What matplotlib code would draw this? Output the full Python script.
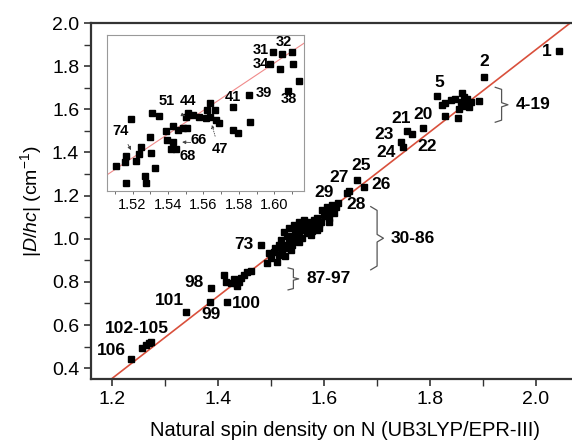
import numpy as np
import matplotlib
matplotlib.use("Agg")
import matplotlib.pyplot as plt
from matplotlib.ticker import MultipleLocator, FormatStrFormatter

plt.rcParams['font.family'] = ['Liberation Sans', 'DejaVu Sans']
plt.rcParams['mathtext.fontset'] = 'custom'
plt.rcParams['mathtext.rm'] = 'Liberation Sans'
plt.rcParams['mathtext.it'] = 'Liberation Sans:italic'

# ---- main panel data (spin density, |D/hc|) ----
# isolated, labelled compounds
lab_x = [2.043, 1.902, 1.813, 1.757, 1.787, 1.766, 1.745, 1.749, 1.662, 1.675,
         1.647, 1.626, 1.644, 1.481, 1.387, 1.385, 1.417, 1.340, 1.236]
lab_y = [1.870, 1.749, 1.660, 1.498, 1.512, 1.484, 1.447, 1.423, 1.274, 1.242,
         1.223, 1.167, 1.214, 0.972, 0.772, 0.707, 0.707, 0.660, 0.442]

# 4-19
grp1_x = [1.823, 1.828, 1.840, 1.847, 1.860, 1.864, 1.858, 1.870, 1.877, 1.874,
          1.892, 1.828, 1.853, 1.855, 1.866]
grp1_y = [1.619, 1.628, 1.642, 1.647, 1.674, 1.656, 1.633, 1.647, 1.633, 1.609,
          1.637, 1.567, 1.558, 1.600, 1.614]

# 30-86
grp2_x = [1.492, 1.500, 1.506, 1.515, 1.521, 1.511, 1.525, 1.530, 1.534, 1.540,
          1.545, 1.538, 1.549, 1.553, 1.558, 1.562, 1.568, 1.572, 1.575, 1.581,
          1.587, 1.591, 1.525, 1.534, 1.543, 1.553, 1.562, 1.572, 1.581, 1.587,
          1.594, 1.600, 1.519, 1.530, 1.553, 1.564, 1.577, 1.591, 1.545, 1.508,
          1.496, 1.515, 1.596, 1.604, 1.613, 1.609, 1.619, 1.606, 1.615, 1.623,
          1.609, 1.602, 1.557, 1.538, 1.526, 1.583]
grp2_y = [0.888, 0.912, 0.940, 0.926, 0.949, 0.893, 0.972, 0.958, 0.986, 0.972,
          0.995, 1.014, 1.019, 1.033, 1.005, 1.042, 1.028, 1.051, 1.019, 1.060,
          1.042, 1.070, 1.033, 1.051, 1.065, 1.079, 1.088, 1.079, 1.088, 1.098,
          1.079, 1.112, 0.995, 1.014, 0.986, 1.060, 1.037, 1.051, 1.042, 0.958,
          0.935, 0.972, 1.135, 1.107, 1.126, 1.079, 1.121, 1.149, 1.158, 1.149,
          1.098, 1.126, 1.051, 0.949, 0.921, 1.070]

# 87-97
grp3_x = [1.411, 1.415, 1.425, 1.434, 1.440, 1.443, 1.449, 1.455, 1.462, 1.430, 1.436]
grp3_y = [0.833, 0.800, 0.795, 0.795, 0.800, 0.819, 0.833, 0.847, 0.851, 0.814, 0.781]

# 102-105
grp4_x = [1.257, 1.264, 1.270, 1.274]
grp4_y = [0.493, 0.507, 0.516, 0.521]

# linear fit
slope, intercept = 1.905, -1.933

# text labels of main panel
txt = ['1', '2', '5', '21', '20', '22', '23', '24', '25', '26', '27', '29', '28',
       '73', '98', '99', '100', '101', '102-105', '106']
txt_x = [2.021, 1.902, 1.817, 1.745, 1.787, 1.794, 1.713, 1.717, 1.670, 1.708,
         1.628, 1.600, 1.660, 1.449, 1.355, 1.387, 1.453, 1.308, 1.247, 1.198]
txt_y = [1.870, 1.823, 1.726, 1.558, 1.577, 1.428, 1.484, 1.400, 1.340, 1.251,
         1.284, 1.214, 1.158, 0.972, 0.795, 0.647, 0.702, 0.716, 0.586, 0.484]

# ---- inset data (zoom on 30-86) ----
ins_x = [1.5990, 1.6043, 1.6099, 1.5977, 1.6033, 1.6103, 1.6137, 1.6075, 1.5858, 1.5766,
         1.5860, 1.5769, 1.5794, 1.5634, 1.5619, 1.5666, 1.5515, 1.5543, 1.5577, 1.5615,
         1.5638, 1.5672, 1.5685, 1.5502, 1.5427, 1.5459, 1.5487, 1.5506, 1.5389, 1.5393,
         1.5427, 1.5416, 1.5446, 1.5308, 1.5351, 1.5192, 1.5299, 1.5246, 1.5303, 1.5218,
         1.5238, 1.5162, 1.5158, 1.5107, 1.5327, 1.5271, 1.5163, 1.5276]
ins_y = [1.132, 1.130, 1.133, 1.113, 1.105, 1.113, 1.086, 1.070, 1.063, 1.044,
         1.020, 1.007, 1.003, 1.050, 1.039, 1.039, 1.035, 1.032, 1.028, 1.027,
         1.028, 1.023, 1.018, 1.028, 1.013, 1.008, 1.010, 1.010, 1.005, 0.991,
         0.988, 0.976, 0.977, 1.035, 1.029, 1.025, 0.996, 0.980, 0.971, 0.958,
         0.969, 0.966, 0.956, 0.949, 0.946, 0.934, 0.922, 0.922]
ins_txt = ['74', '51', '44', '66', '68', '47', '41', '39', '38', '31', '32', '34']
ins_txt_x = [1.5133, 1.5393, 1.5510, 1.5572, 1.5510, 1.5690, 1.5766, 1.5943, 1.6080,
             1.5924, 1.6052, 1.5926]
ins_txt_y = [1.005, 1.054, 1.054, 0.991, 0.965, 0.976, 1.060, 1.066, 1.057,
             1.136, 1.148, 1.113]


def brace(ax, x, y0, y1, w):
    # right-facing curly bracket drawn with straight segments
    ym = (y0 + y1) / 2
    h = (y1 - y0) * 0.06
    ax.plot([x - w, x, x, x + w, x, x, x - w],
            [y1, y1 - h, ym + h, ym, ym - h, y0 + h, y0],
            color='#555555', lw=0.9, solid_joinstyle='round')


fig = plt.figure(figsize=(5.72, 4.45), dpi=100)
ax = fig.add_axes([91 / 572, 1 - 379 / 445, 480 / 572, 356 / 445])

sq = dict(marker='s', ls='none', color='black', ms=5)
for xs, ys in [(lab_x, lab_y), (grp1_x, grp1_y), (grp2_x, grp2_y),
               (grp3_x, grp3_y), (grp4_x, grp4_y)]:
    ax.plot(xs, ys, **sq)

xl = np.array([1.16, 2.07])
ax.plot(xl, slope * xl + intercept, color='#d9503c', lw=1.2, zorder=1)

for t, x, y in zip(txt, txt_x, txt_y):
    ax.text(x, y, t, fontsize=12.5, fontweight='bold', ha='center', va='center')

brace(ax, 1.935, 1.540, 1.702, 0.012)
ax.text(1.962, 1.621, '4-19', fontsize=12.5, fontweight='bold', va='center')
brace(ax, 1.700, 0.856, 1.149, 0.012)
ax.text(1.726, 1.003, '30-86', fontsize=12.5, fontweight='bold', va='center')
brace(ax, 1.542, 0.763, 0.865, 0.010)
ax.text(1.566, 0.817, '87-97', fontsize=12.5, fontweight='bold', va='center')

ax.set_xlim(1.16, 2.066)
ax.set_ylim(0.35, 2.0)
ax.xaxis.set_major_locator(MultipleLocator(0.2))
ax.xaxis.set_minor_locator(MultipleLocator(0.1))
ax.yaxis.set_major_locator(MultipleLocator(0.2))
ax.yaxis.set_minor_locator(MultipleLocator(0.1))
ax.yaxis.set_major_formatter(FormatStrFormatter('%.1f'))
ax.xaxis.set_major_formatter(FormatStrFormatter('%.1f'))
ax.tick_params(which='both', direction='out', labelsize=14, color='#333333')
ax.tick_params(which='major', length=5, width=1.2)
ax.tick_params(which='minor', length=5, width=1.0)
ax.spines['right'].set_visible(False)
for s in ['left', 'bottom', 'top']:
    ax.spines[s].set_linewidth(1.6)
    ax.spines[s].set_color('#333333')
ax.set_xlabel('Natural spin density on N (UB3LYP/EPR-III)', fontsize=14.5)
ax.xaxis.set_label_coords(0.529, -0.118)
ax.set_ylabel(r'|$\mathit{D/hc}$| (cm$^{-1}$)', fontsize=14, labelpad=6)

# inset
ins = fig.add_axes([107 / 572, 1 - 190.5 / 445, 196.5 / 572, 155.5 / 445])
ins.plot(ins_x, ins_y, marker='s', ls='none', color='black', ms=3.8)
xi = np.array([1.50, 1.62])
ins.plot(xi, slope * xi + intercept, color='#f08a8a', lw=0.8, zorder=1)
for t, x, y in zip(ins_txt, ins_txt_x, ins_txt_y):
    ins.text(x, y, t, fontsize=10.5, fontweight='bold', ha='center', va='center')
arr = dict(arrowstyle='-|>', lw=0.6, color='#444444', mutation_scale=5)
ins.annotate('', xy=(1.5199, 0.971), xytext=(1.5167, 0.988), arrowprops=arr)
ins.annotate('', xy=(1.5510, 1.028), xytext=(1.5478, 1.032), arrowprops=arr)
ins.annotate('', xy=(1.5464, 0.988), xytext=(1.5543, 0.987), arrowprops=arr)
ins.annotate('', xy=(1.5643, 1.020), xytext=(1.5670, 0.993),
             arrowprops=dict(arrowstyle='-|>', lw=0.6, ls=':', color='#444444', mutation_scale=5))
ins.set_xlim(1.5056, 1.6164)
ins.set_ylim(0.91, 1.16)
ins.set_yticks([])
ins.xaxis.set_major_locator(MultipleLocator(0.02))
ins.xaxis.set_minor_locator(MultipleLocator(0.01))
ins.xaxis.set_major_formatter(FormatStrFormatter('%.2f'))
ins.tick_params(which='both', direction='out', labelsize=10.5, length=2.5, width=0.6,
                color='#555555', pad=3)
for s in ins.spines.values():
    s.set_color('#999999')
    s.set_linewidth(0.8)

fig.savefig('out.png', dpi=100)
